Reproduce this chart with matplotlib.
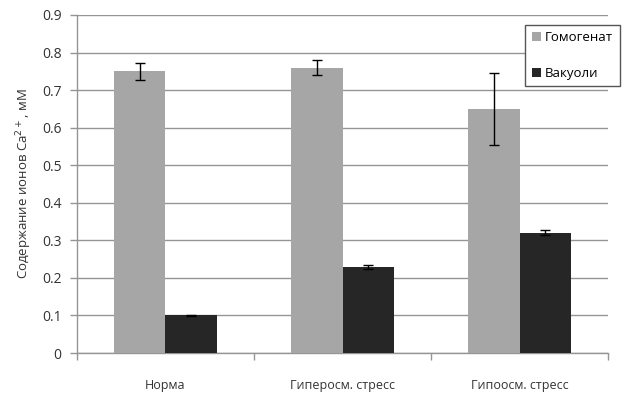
import matplotlib
matplotlib.use("Agg")
import matplotlib.pyplot as plt
import numpy as np

plt.rcParams['font.family'] = ['Open Sans', 'DejaVu Sans']

categories = ['Норма', 'Гиперосм. стресс', 'Гипоосм. стресс']
homogenate = [0.75, 0.76, 0.65]
homogenate_err = [0.023, 0.019, 0.095]
vacuoles = [0.10, 0.23, 0.32]
vacuoles_err = [0.002, 0.005, 0.007]
yticks = [0, 0.1, 0.2, 0.3, 0.4, 0.5, 0.6, 0.7, 0.8, 0.9]

fig = plt.figure(figsize=(6.28, 3.94), dpi=100)
ax = fig.add_axes([0.1226, 0.104, 0.8456, 0.858])

x = np.arange(len(categories))
w = 0.29
grey = '#a6a6a6'
dark = '#262626'
axis_col = '#959595'

ax.bar(x - w/2, homogenate, w, color=grey, label='Гомогенат', zorder=3)
ax.bar(x + w/2, vacuoles, w, color=dark, label='Вакуоли', zorder=3)
ekw = dict(fmt='none', ecolor='black', elinewidth=1, capsize=3.5, capthick=1, zorder=4)
ax.errorbar(x - w/2, homogenate, yerr=homogenate_err, **ekw)
ax.errorbar(x + w/2, vacuoles, yerr=vacuoles_err, **ekw)

ax.set_xlim(-0.5, len(categories) - 0.5)
ax.set_ylim(0, 0.9)
ax.set_yticks(yticks)
ax.set_yticklabels([f'{t:g}' for t in yticks])
ax.yaxis.grid(True, color=axis_col, linewidth=1, zorder=0)
ax.set_axisbelow(True)

ax.set_xticks(x)
ax.set_xticklabels(categories)
ax.set_xticks(np.arange(len(categories) + 1) - 0.5, minor=True)
ax.tick_params(axis='x', which='major', length=0, pad=19, labelsize=9, colors='#333333')
ax.tick_params(axis='x', which='minor', length=5, color=axis_col, width=1)
ax.tick_params(axis='y', length=5, width=1, labelsize=10, pad=6, colors='#333333')
ax.tick_params(axis='y', color=axis_col)

for s in ['top', 'right']:
    ax.spines[s].set_visible(False)
for s in ['left', 'bottom']:
    ax.spines[s].set_color(axis_col)
    ax.spines[s].set_linewidth(1)

ax.set_ylabel('Содержание ионов Ca$^{2+}$, мМ', fontsize=9.5, color='#333333', labelpad=6)

leg = fig.legend(loc='upper right', bbox_to_anchor=(0.987, 0.937), borderaxespad=0,
                 fancybox=False, edgecolor='#555555', framealpha=1,
                 handlelength=0.7, handleheight=0.7, handletextpad=0.3,
                 labelspacing=1.7, borderpad=0.5, fontsize=9.5)
leg.get_frame().set_linewidth(1)

fig.savefig('out.png', dpi=100)
